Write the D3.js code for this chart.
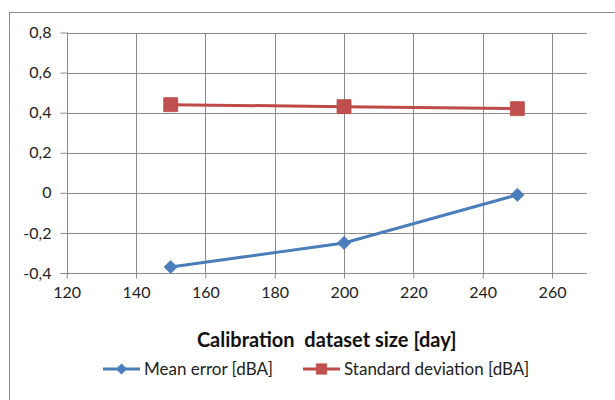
<!DOCTYPE html>
<html>
<head>
<meta charset="utf-8">
<script src="https://cdn.jsdelivr.net/npm/d3@7/dist/d3.min.js"></script>
<style>
  html, body { margin: 0; padding: 0; background: #fff; }
  svg { display: block; font-family: Lato, "Open Sans", sans-serif; }
</style>
</head>
<body>
<svg id="chart" width="615" height="400"></svg>
<script>
// Calibration dataset sizes (days)
const datasetSizes = [150, 200, 250];
// Mean error per dataset size [dBA]
const meanError = [-0.37, -0.25, -0.01];
// Standard deviation per dataset size [dBA]
const stdDeviation = [0.44, 0.43, 0.42];
const xTicks = [120, 140, 160, 180, 200, 220, 240, 260];
const yTicks = [-0.4, -0.2, 0, 0.2, 0.4, 0.6, 0.8];
const seriesNames = ["Mean error [dBA]", "Standard deviation [dBA]"];
const xTitle = "Calibration  dataset size [day]";

const svg = d3.select("#chart");

// outer chart frame
svg.append("rect")
  .attr("x", 9.5).attr("y", 12.5)
  .attr("width", 620).attr("height", 400)
  .attr("fill", "none").attr("stroke", "#8c8c8c").attr("stroke-width", 1);

const x = d3.scaleLinear().domain([120, 270]).range([66.7, 586.7]);
const y = d3.scaleLinear().domain([-0.4, 0.8]).range([273, 32.5]);

const yFmt = d => (Math.abs(d) < 1e-9 ? "0" : d3.format(".1f")(d).replace(".", ",").replace("−", "-"));

const grid = svg.append("g").attr("stroke", "#8a8a8a").attr("stroke-width", 1).attr("shape-rendering", "crispEdges");
// horizontal gridlines
grid.selectAll(".hg").data(yTicks).join("line")
  .attr("x1", x(120)).attr("x2", x(270))
  .attr("y1", d => Math.round(y(d)) + 0.5).attr("y2", d => Math.round(y(d)) + 0.5);
// vertical gridlines
grid.selectAll(".vg").data(xTicks).join("line")
  .attr("x1", d => Math.round(x(d)) + 0.5).attr("x2", d => Math.round(x(d)) + 0.5)
  .attr("y1", y(0.8)).attr("y2", y(-0.4));

// y axis
const yAxis = svg.append("g")
  .attr("transform", `translate(${Math.round(x(120)) + 0.5},0)`)
  .call(d3.axisLeft(y).tickValues(yTicks).tickSize(7).tickPadding(9).tickFormat(yFmt));
// x axis
const xAxis = svg.append("g")
  .attr("transform", `translate(0,${Math.round(y(-0.4)) + 0.5})`)
  .call(d3.axisBottom(x).tickValues(xTicks).tickSize(5).tickPadding(8).tickFormat(d3.format("d")));

[yAxis, xAxis].forEach(g => {
  g.select(".domain").attr("stroke", "#8a8a8a");
  g.selectAll(".tick line").attr("stroke", "#8a8a8a");
  g.selectAll(".tick text").attr("fill", "#222").attr("font-size", 16)
    .attr("font-family", "Lato, 'Open Sans', sans-serif");
});
xAxis.select(".domain").attr("d", `M${x(120)},0H${x(270)}`);
yAxis.select(".domain").attr("d", `M0,${y(-0.4)}V${y(0.8)}`);

const blue = "#4a7ebb", red = "#be4b48";
const line = d3.line().x(d => x(d[0])).y(d => y(d[1]));

const meanPts = datasetSizes.map((s, i) => [s, meanError[i]]);
const stdPts = datasetSizes.map((s, i) => [s, stdDeviation[i]]);

svg.append("path").datum(stdPts).attr("d", line)
  .attr("fill", "none").attr("stroke", red).attr("stroke-width", 3);
svg.append("path").datum(meanPts).attr("d", line)
  .attr("fill", "none").attr("stroke", blue).attr("stroke-width", 3);

const square = d3.symbol().type(d3.symbolSquare).size(196);
const diamond = d3.symbol().type(d3.symbolDiamond2).size(110);

svg.selectAll(".sq").data(stdPts).join("path")
  .attr("d", square).attr("transform", d => `translate(${x(d[0])},${y(d[1])})`)
  .attr("fill", "#c0504d").attr("stroke", red).attr("stroke-width", 0.8);
svg.selectAll(".dm").data(meanPts).join("path")
  .attr("d", diamond).attr("transform", d => `translate(${x(d[0])},${y(d[1])})`)
  .attr("fill", blue).attr("stroke", blue).attr("stroke-width", 0.8);

// axis title
svg.append("text")
  .attr("x", (x(120) + x(270)) / 2).attr("y", 347)
  .attr("text-anchor", "middle").attr("font-weight", "bold").attr("font-size", 20)
  .attr("fill", "#111").attr("xml:space", "preserve").style("white-space", "pre")
  .text(xTitle);

// legend
const legend = svg.append("g");
const legendItems = [
  { name: seriesNames[0], color: blue, fill: blue, x0: 103 },
  { name: seriesNames[1], color: red, fill: "#c0504d", x0: 303 }
];
legendItems.forEach((it, i) => {
  const g = legend.append("g");
  g.append("line").attr("x1", it.x0).attr("x2", it.x0 + 37).attr("y1", 369).attr("y2", 369)
    .attr("stroke", it.color).attr("stroke-width", 3);
  g.append("path").attr("d", i === 0 ? d3.symbol().type(d3.symbolDiamond2).size(70)() : d3.symbol().type(d3.symbolSquare).size(110)())
    .attr("transform", `translate(${it.x0 + 18.5},369)`)
    .attr("fill", it.fill).attr("stroke", it.color).attr("stroke-width", 0.6);
  g.append("text").attr("x", it.x0 + 41).attr("y", 375)
    .attr("font-size", 17).attr("fill", "#222").text(it.name);
});
</script>
</body>
</html>
